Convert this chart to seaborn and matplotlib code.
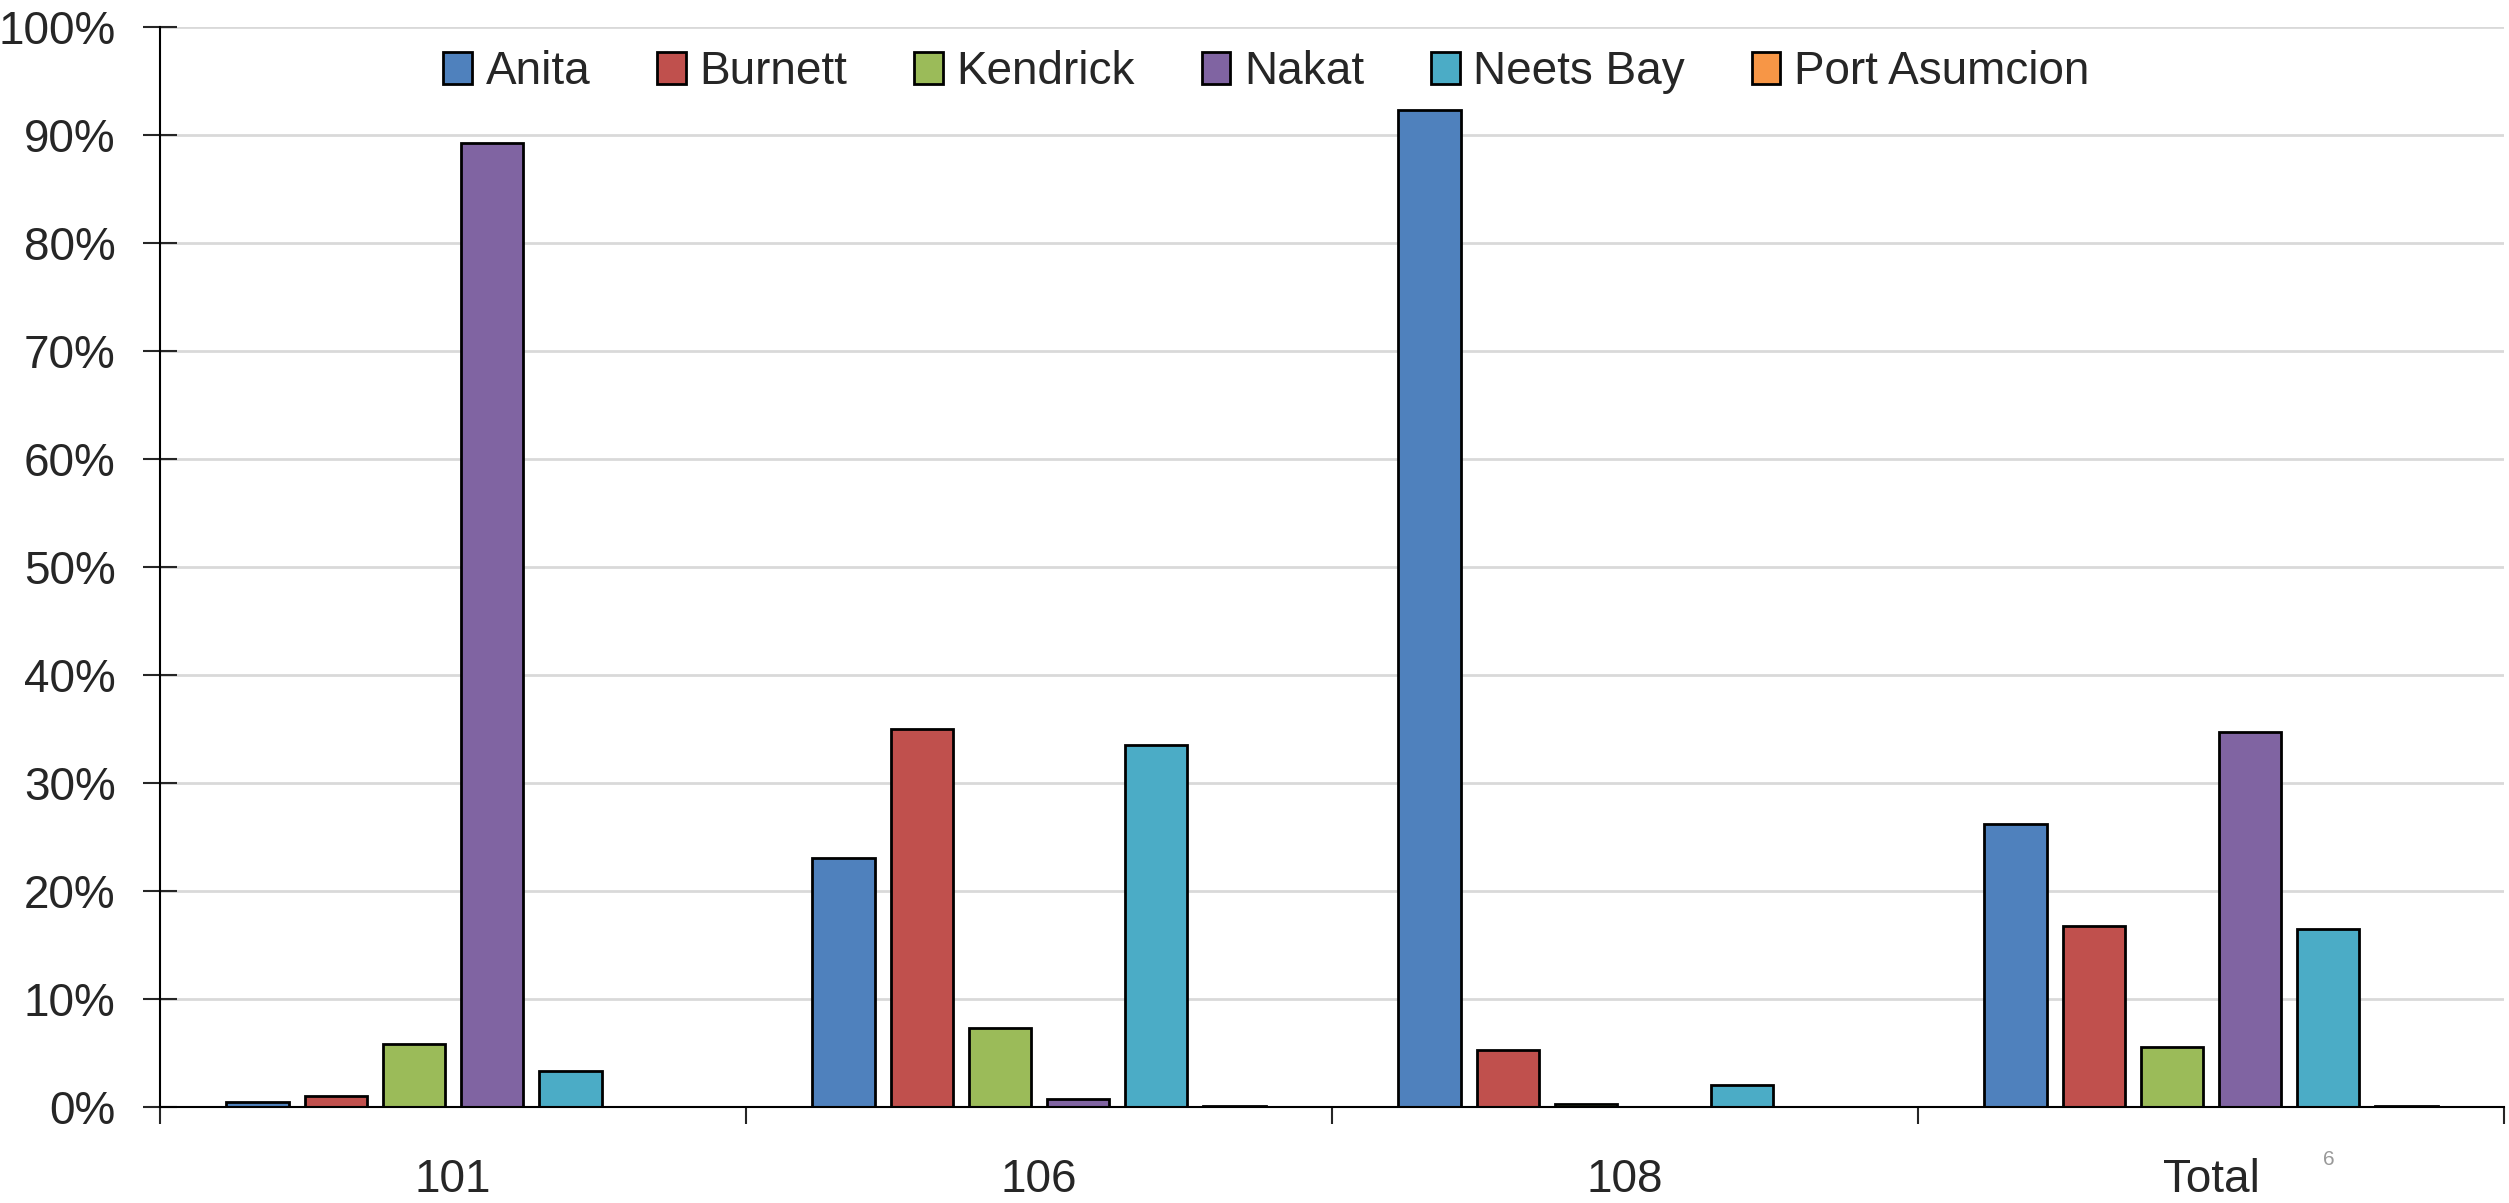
import pandas as pd
import matplotlib.pyplot as plt
import seaborn as sns
from matplotlib.ticker import PercentFormatter

# data (percent of catch by release site)
groups = ["101", "106", "108", "Total"]
sites = ["Anita", "Burnett", "Kendrick", "Nakat", "Neets Bay", "Port Asumcion"]
anita = [0.5, 23.1, 92.3, 26.2]
burnett = [1.0, 35.0, 5.3, 16.8]
kendrick = [5.8, 7.3, 0.3, 5.6]
nakat = [89.3, 0.7, 0.0, 34.7]
neets_bay = [3.3, 33.5, 2.0, 16.5]
port_asumcion = [0.0, 0.1, 0.0, 0.05]
site_colors = ["#4F81BD", "#C0504D", "#9BBB59", "#8064A2", "#4BACC6", "#F79646"]

values = [anita, burnett, kendrick, nakat, neets_bay, port_asumcion]
rows = []
for site, vals in zip(sites, values):
    for g, v in zip(groups, vals):
        rows.append({"group": g, "site": site, "pct": v})
df = pd.DataFrame(rows)

sns.set_style("white")
plt.rcParams["font.family"] = ["Liberation Sans Narrow", "Liberation Sans", "DejaVu Sans"]

fig, ax = plt.subplots(figsize=(25.09, 12.03), dpi=100)
fig.subplots_adjust(left=0.0638, right=0.998, top=0.9776, bottom=0.0798)

sns.barplot(data=df, x="group", y="pct", hue="site", order=groups,
            hue_order=sites, palette=site_colors, saturation=1,
            width=0.8, gap=0.2, edgecolor="black", linewidth=2,
            ax=ax, legend=True)

ax.set_ylim(0, 100)
ax.set_xlim(-0.5, 3.5)
ax.set_yticks(range(0, 101, 10))
ax.yaxis.set_major_formatter(PercentFormatter(decimals=0))
ax.yaxis.grid(True, color="#d9d9d9", linewidth=2)
ax.set_axisbelow(True)
ax.set_xlabel("")
ax.set_ylabel("")

for side in ["top", "right"]:
    ax.spines[side].set_visible(False)
for side in ["left", "bottom"]:
    ax.spines[side].set_color("black")
    ax.spines[side].set_linewidth(1.5)

ax.tick_params(axis="y", direction="inout", length=24, width=1.5,
               labelsize=33, pad=20, left=True)
ax.tick_params(axis="x", which="major", length=0, labelsize=33, pad=37)
ax.set_xticks([-0.5, 0.5, 1.5, 2.5, 3.5], minor=True)
ax.tick_params(axis="x", which="minor", direction="out", length=12,
               width=1.5, bottom=True)

handles, labels = ax.get_legend_handles_labels()
ax.legend(handles, labels, ncol=6, loc="center", bbox_to_anchor=(0.472, 0.958),
          frameon=False, fontsize=33, handlelength=0.63, handleheight=0.7,
          handletextpad=0.3, columnspacing=1.45)

fig.text(0.928, 0.036, "6", color="#999999", fontsize=15, ha="center", va="center")

fig.savefig("out.png", dpi=100)
